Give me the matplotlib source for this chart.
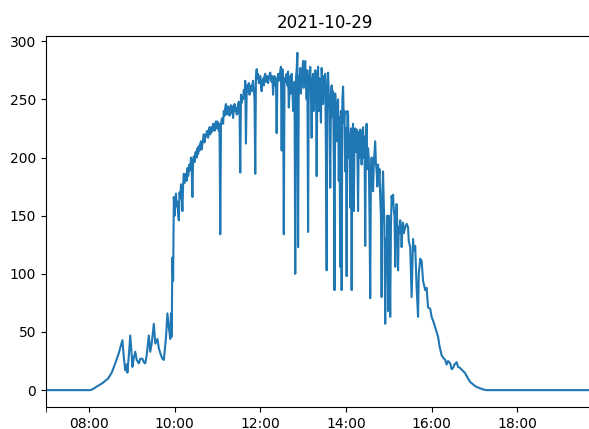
import matplotlib
matplotlib.use("Agg")
import matplotlib.pyplot as plt
import matplotlib.dates as mdates
import pandas as pd

DAY = "2021-10-29"

# morning ramp, irregular samples
morning_times = [
    "07:00", "08:02", "08:06", "08:11", "08:19", "08:27", "08:32", "08:37", "08:42", "08:47",
    "08:49", "08:51", "08:53", "08:54", "08:56", "08:58", "09:00", "09:01", "09:03", "09:05",
    "09:07", "09:10", "09:12", "09:15", "09:17", "09:19", "09:21", "09:24", "09:26", "09:28",
    "09:31", "09:33", "09:36", "09:38", "09:41", "09:43", "09:45", "09:48", "09:50", "09:52",
    "09:54", "09:55", "09:56", "09:57", "09:58", "09:59",
]
morning_power = [
    0, 0, 1, 3, 6, 10, 15, 23, 32, 43,
    28, 17, 22, 15, 30, 47, 30, 20, 28, 33,
    26, 23, 27, 27, 24, 23, 30, 47, 33, 40,
    57, 40, 44, 36, 30, 27, 26, 45, 66, 54,
    44, 66, 46, 114, 94, 166,
]

# 10:00 - 12:40, one value per minute
midday_start = "10:00"
midday_power = [
    150, 160, 169, 158, 162, 152, 146, 170, 165, 177,
    168, 154, 176, 186, 178, 182, 186, 180, 191, 184,
    188, 194, 189, 200, 192, 166, 198, 201, 196, 204,
    205, 200, 208, 203, 210, 206, 212, 214, 207, 212,
    216, 220, 213, 219, 218, 222, 223, 217, 221, 226,
    220, 226, 222, 224, 229, 229, 223, 226, 231, 225,
    231, 227, 223, 229, 134, 228, 233, 234, 229, 240,
    236, 243, 246, 237, 238, 244, 240, 236, 243, 245,
    238, 244, 234, 241, 246, 240, 243, 237, 238, 246,
    248, 242, 187, 254, 247, 252, 250, 258, 252, 266,
    212, 255, 262, 257, 264, 254, 262, 258, 257, 263,
    266, 258, 250, 186, 270, 276, 268, 272, 264, 265,
    270, 262, 257, 266, 268, 262, 270, 272, 265, 268,
    270, 264, 268, 271, 273, 268, 265, 270, 254, 266,
    270, 262, 268, 221, 266, 272, 266, 268, 274, 278,
    206, 276, 262, 134, 268, 265, 270, 272, 262, 274,
    243,
]

# afternoon with passing clouds, then the evening tail
afternoon_times = [
    "12:42", "12:43", "12:44", "12:45", "12:46", "12:47", "12:48", "12:49", "12:50", "12:51",
    "12:52", "12:53", "12:54", "12:55", "12:56", "12:57", "12:58", "12:59", "13:00", "13:01",
    "13:02", "13:03", "13:04", "13:05", "13:06", "13:07", "13:08", "13:09", "13:10", "13:11",
    "13:12", "13:13", "13:14", "13:15", "13:16", "13:17", "13:18", "13:19", "13:20", "13:21",
    "13:22", "13:23", "13:24", "13:25", "13:26", "13:27", "13:28", "13:29", "13:30", "13:31",
    "13:32", "13:33", "13:34", "13:35", "13:36", "13:37", "13:38", "13:39", "13:40", "13:41",
    "13:42", "13:43", "13:44", "13:45", "13:46", "13:47", "13:48", "13:49", "13:50", "13:51",
    "13:52", "13:53", "13:54", "13:55", "13:56", "13:57", "13:58", "13:59", "14:00", "14:01",
    "14:02", "14:03", "14:04", "14:05", "14:06", "14:07", "14:08", "14:09", "14:10", "14:11",
    "14:12", "14:13", "14:14", "14:15", "14:16", "14:17", "14:18", "14:19", "14:20", "14:21",
    "14:22", "14:23", "14:24", "14:25", "14:26", "14:27", "14:28", "14:29", "14:30", "14:31",
    "14:32", "14:33", "14:34", "14:35", "14:36", "14:37", "14:38", "14:39", "14:40", "14:41",
    "14:42", "14:43", "14:44", "14:45", "14:46", "14:47", "14:48", "14:49", "14:50", "14:51",
    "14:52", "14:53", "14:54", "14:55", "14:56", "14:57", "14:58", "14:59", "15:00", "15:01",
    "15:02", "15:03", "15:04", "15:05", "15:06", "15:07", "15:08", "15:09", "15:10", "15:11",
    "15:12", "15:13", "15:14", "15:15", "15:16", "15:17", "15:18", "15:19", "15:20", "15:21",
    "15:23", "15:25", "15:27", "15:28", "15:30", "15:32", "15:34", "15:35", "15:37", "15:39",
    "15:41", "15:42", "15:44", "15:46", "15:48", "15:51", "15:53", "15:55", "15:58", "16:00",
    "16:03", "16:05", "16:07", "16:09", "16:11", "16:14", "16:16", "16:19", "16:21", "16:23",
    "16:26", "16:28", "16:30", "16:32", "16:35", "16:37", "16:40", "16:43", "16:47", "16:50",
    "16:54", "16:58", "17:01", "17:06", "17:12", "17:17", "20:00",
]
afternoon_power = [
    270, 255, 272, 262, 240, 258, 265, 100, 268, 275,
    290, 123, 270, 262, 277, 255, 266, 275, 283, 260,
    276, 283, 268, 250, 275, 136, 270, 262, 278, 255,
    217, 265, 272, 240, 262, 275, 270, 184, 268, 278,
    240, 268, 257, 230, 277, 262, 246, 270, 268, 272,
    200, 103, 262, 273, 255, 240, 174, 250, 262, 235,
    257, 200, 86, 255, 230, 214, 245, 250, 180, 235,
    106, 240, 86, 250, 261, 230, 240, 188, 225, 98,
    240, 237, 200, 220, 157, 225, 86, 220, 229, 154,
    215, 225, 205, 224, 210, 154, 222, 200, 224, 215,
    194, 220, 226, 200, 218, 124, 215, 229, 190, 208,
    200, 150, 79, 190, 200, 185, 171, 195, 205, 214,
    195, 188, 175, 194, 180, 190, 166, 150, 80, 170,
    188, 160, 140, 57, 130, 114, 150, 68, 150, 120,
    63, 140, 167, 160, 168, 155, 150, 106, 150, 160,
    140, 103, 140, 135, 146, 140, 123, 138, 144, 135,
    140, 143, 140, 128, 123, 80, 130, 120, 124, 88,
    63, 100, 113, 111, 94, 86, 88, 71, 70, 63,
    58, 54, 50, 46, 38, 30, 28, 26, 22, 25,
    23, 18, 19, 22, 24, 20, 19, 17, 14.6, 11,
    7, 5, 3.4, 2, 0.6, 0, 0,
]


def to_dt(hhmm):
    return pd.Timestamp(f"{DAY} {hhmm}")


midday_times = pd.date_range(to_dt(midday_start), periods=len(midday_power), freq="min")
x = ([to_dt(t) for t in morning_times] + list(midday_times)
     + [to_dt(t) for t in afternoon_times])
y = morning_power + midday_power + afternoon_power

fig = plt.figure(figsize=(5.89, 4.29), dpi=100)
# the axes runs a little past the right edge of the canvas
ax = fig.add_axes([0.0781, 0.0513, 0.9457, 0.8648])
ax.plot(x, y, color="tab:blue", linewidth=1.5)

ax.set_xlim(to_dt("07:00"), to_dt("20:00"))
ax.xaxis.set_major_locator(mdates.HourLocator(byhour=range(8, 20, 2)))
ax.xaxis.set_major_formatter(mdates.DateFormatter("%H:%M"))
ax.xaxis.set_minor_locator(mdates.HourLocator(byhour=[7]))
ax.tick_params(axis="x", which="minor", length=3.5)
ax.set_yticks(range(0, 301, 50))
ax.set_title(DAY)

fig.savefig("out.png", dpi=100)
